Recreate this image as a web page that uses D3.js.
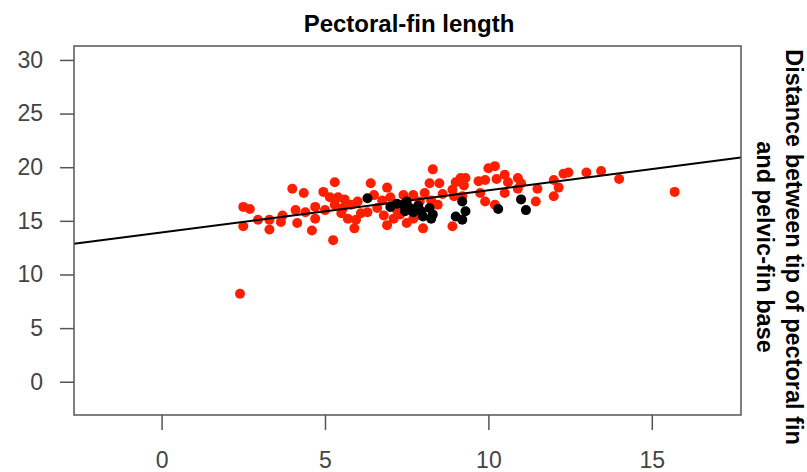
<!DOCTYPE html>
<html>
<head>
<meta charset="utf-8">
<script src="https://cdn.jsdelivr.net/npm/d3@7/dist/d3.min.js"></script>
<style>
  html, body { margin: 0; padding: 0; background: #fff; }
  svg { display: block; }
</style>
</head>
<body>
<svg id="chart" width="807" height="472"></svg>
<script>
// ---- data ----
const title = "Pectoral-fin length";
const yLabelLines = ["Distance between tip of pectoral fin", "and pelvic-fin base"];
const xTicks = [0, 5, 10, 15];
const yTicks = [0, 5, 10, 15, 20, 25, 30];
const xDomain = [-2.68, 17.73];
const yDomain = [-3.1, 31.3];

// red group: [x, y]
const redX = [2.4, 2.5, 2.7, 2.5, 2.95, 3.3, 3.3, 3.65, 4.0, 4.35, 4.1, 4.15, 4.6, 4.7, 4.7, 4.95, 5.3, 5.25, 5.15, 5.4,
  5.6, 5.8, 5.0, 5.5, 5.7, 5.95, 6.1, 5.9, 6.4, 6.9, 6.3, 6.9, 5.3, 5.55, 6.0, 6.5, 6.75, 7.0, 7.2, 7.1,
  7.4, 7.7, 7.3, 7.8, 7.5, 8.0, 8.05, 8.2, 8.5, 8.3, 8.25, 8.45, 7.7, 8.9, 8.9, 9.0, 9.15, 9.25, 9.3, 8.95,
  9.2, 9.7, 9.9, 10.0, 10.2, 10.25, 10.5, 10.6, 10.9, 11.0, 9.75, 9.9, 10.2, 10.5, 10.9, 11.5, 11.45, 12.0, 12.15, 12.0,
  12.3, 12.45, 13.0, 13.45, 14.0, 15.7, 8.6, 7.9, 6.6, 3.7, 4.4, 6.8];
const redY = [8.2, 16.3, 16.1, 14.5, 15.1, 15.1, 14.2, 14.9, 18.0, 17.6, 16.0, 14.8, 14.1, 15.2, 16.3, 17.7, 18.6, 13.2, 17.2, 17.2,
  17.0, 16.5, 16.0, 15.7, 15.2, 15.1, 15.7, 14.3, 18.5, 18.1, 15.8, 14.6, 16.5, 16.2, 16.8, 17.4, 16.9, 17.2, 16.0, 15.2,
  17.4, 17.4, 15.6, 15.5, 14.8, 14.3, 17.6, 18.5, 18.5, 19.8, 16.9, 16.5, 15.2, 14.5, 17.9, 18.6, 19.0, 18.3, 19.0, 17.3,
  17.3, 18.7, 18.8, 19.9, 20.1, 18.9, 19.3, 18.6, 19.0, 18.5, 17.6, 16.8, 16.5, 17.6, 18.0, 18.0, 16.8, 17.3, 18.1, 18.8,
  19.4, 19.5, 19.5, 19.65, 18.9, 17.7, 17.5, 16.8, 16.2, 15.5, 15.8, 15.5];

// black group
const blackX = [6.3, 7.0, 7.2, 7.4, 7.5, 7.6, 7.45, 7.7, 7.85, 7.95, 8.0, 8.2, 8.3, 8.25, 9.2, 9.3, 9.0, 9.2, 10.3, 11.0, 11.15];
const blackY = [17.1, 16.3, 16.6, 16.5, 16.8, 16.2, 15.9, 15.8, 16.4, 15.9, 15.4, 16.2, 15.6, 15.2, 16.8, 15.9, 15.4, 15.1, 16.1, 17.0, 16.0];

// fitted line: y = intercept + slope * x
const intercept = 13.91;
const slope = 0.394;

// ---- drawing ----
const svg = d3.select("#chart");
const mLeft = 74, mRight = 741, mTop = 46, mBottom = 415;

const x = d3.scaleLinear().domain(xDomain).range([mLeft, mRight]);
const y = d3.scaleLinear().domain(yDomain).range([mBottom, mTop]);

const axisColor = "#555";
const labelColor = "#444";
const font = "'Liberation Sans', Arial, sans-serif";

// title
svg.append("text")
  .attr("x", 409).attr("y", 32)
  .attr("text-anchor", "middle")
  .attr("font-family", font).attr("font-weight", "bold").attr("font-size", 24)
  .attr("fill", "#000")
  .text(title);

// points
const red = redX.map((v, i) => [v, redY[i]]);
const black = blackX.map((v, i) => [v, blackY[i]]);

svg.append("clipPath").attr("id", "plotclip")
  .append("rect").attr("x", mLeft).attr("y", mTop).attr("width", mRight - mLeft).attr("height", mBottom - mTop);

const g = svg.append("g").attr("clip-path", "url(#plotclip)");

g.selectAll("circle.red").data(red).enter().append("circle")
  .attr("class", "red")
  .attr("cx", d => x(d[0])).attr("cy", d => y(d[1]))
  .attr("r", 5).attr("fill", "#ff1f00");

g.selectAll("circle.black").data(black).enter().append("circle")
  .attr("class", "black")
  .attr("cx", d => x(d[0])).attr("cy", d => y(d[1]))
  .attr("r", 5).attr("fill", "#000");

// regression line
g.append("line")
  .attr("x1", x(xDomain[0])).attr("y1", y(intercept + slope * xDomain[0]))
  .attr("x2", x(xDomain[1])).attr("y2", y(intercept + slope * xDomain[1]))
  .attr("stroke", "#000").attr("stroke-width", 2);

// box
svg.append("rect")
  .attr("x", mLeft).attr("y", mTop).attr("width", mRight - mLeft).attr("height", mBottom - mTop)
  .attr("fill", "none").attr("stroke", axisColor).attr("stroke-width", 1.5);

// x axis
const xAxis = d3.axisBottom(x).tickValues(xTicks).tickSize(15).tickPadding(22).tickFormat(d3.format("d"));
const gx = svg.append("g").attr("transform", `translate(0,${mBottom})`).call(xAxis);
gx.select(".domain").remove();
gx.selectAll(".tick line").attr("stroke", axisColor).attr("stroke-width", 1.5);
gx.selectAll(".tick text").attr("font-family", font).attr("font-size", 23).attr("fill", labelColor);

// y axis
const yAxis = d3.axisLeft(y).tickValues(yTicks).tickSize(14).tickPadding(17).tickFormat(d3.format("d"));
const gy = svg.append("g").attr("transform", `translate(${mLeft},0)`).call(yAxis);
gy.select(".domain").remove();
gy.selectAll(".tick line").attr("stroke", axisColor).attr("stroke-width", 1.5);
gy.selectAll(".tick text").attr("font-family", font).attr("font-size", 23).attr("fill", labelColor);

// right-side rotated label
const lab = svg.append("text")
  .attr("transform", "translate(786,247) rotate(90)")
  .attr("text-anchor", "middle")
  .attr("font-family", font).attr("font-weight", "bold").attr("font-size", 23.5)
  .attr("fill", "#000");
yLabelLines.forEach((t, i) => {
  lab.append("tspan").attr("x", 0).attr("dy", i === 0 ? 0 : 29).text(t);
});
</script>
</body>
</html>
